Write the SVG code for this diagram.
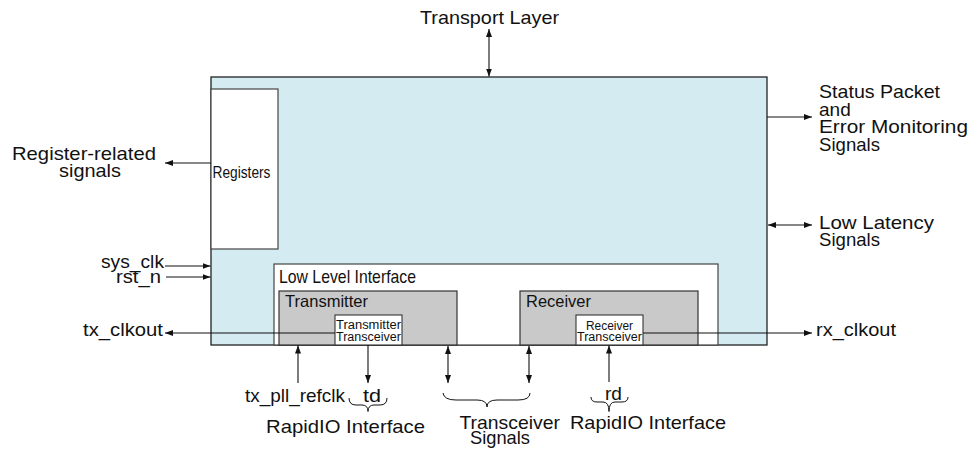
<svg xmlns="http://www.w3.org/2000/svg" width="975" height="449" viewBox="0 0 975 449">
<style>
text{font-family:"Liberation Sans",Arial,sans-serif;fill:#111;}
.l{font-size:19px;}
.m{font-size:16.5px;}
.s{font-size:12.5px;}
.w{stroke:#111;stroke-width:1.1;fill:none;}
.brace{stroke:#111;stroke-width:1;fill:none;}
</style>
<defs>
<marker id="ah" markerUnits="userSpaceOnUse" markerWidth="9" markerHeight="7" refX="8" refY="3" orient="auto-start-reverse">
<path d="M0,0 L8,3 L0,6 z" fill="#111"/>
</marker>
</defs>
<rect width="975" height="449" fill="#fff"/>
<g id="main">
<rect x="211" y="77" width="556" height="268" fill="#d4ebf2" stroke="#222" stroke-width="1.3"/>
</g>
<g id="registers">
<rect x="211" y="89" width="67" height="160" fill="#fff" stroke="#444" stroke-width="1.2"/>
<text class="m" x="212.5" y="178" textLength="58" lengthAdjust="spacingAndGlyphs">Registers</text>
</g>
<g id="lowlevel">
<rect x="274" y="264" width="444" height="81" fill="#fff" stroke="#444" stroke-width="1.2"/>
<text class="l" x="279" y="283" textLength="137" lengthAdjust="spacingAndGlyphs">Low Level Interface</text>
</g>
<g id="transmitter">
<rect x="279" y="291" width="178" height="54" fill="#c9c9c9" stroke="#333" stroke-width="1.2"/>
<text class="m" x="285" y="306.5" textLength="83" lengthAdjust="spacingAndGlyphs">Transmitter</text>
</g>
<g id="tx-transceiver">
<rect x="335" y="315" width="67" height="30" fill="#fff" stroke="#333" stroke-width="1.1"/>
<text class="s" x="368.5" y="329" text-anchor="middle" textLength="65" lengthAdjust="spacingAndGlyphs">Transmitter</text>
<text class="s" x="368.5" y="340.5" text-anchor="middle" textLength="65" lengthAdjust="spacingAndGlyphs">Transceiver</text>
</g>
<g id="receiver">
<rect x="520" y="291" width="178" height="54" fill="#c9c9c9" stroke="#333" stroke-width="1.2"/>
<text class="m" x="526" y="306.5" textLength="65" lengthAdjust="spacingAndGlyphs">Receiver</text>
</g>
<g id="rx-transceiver">
<rect x="576" y="315" width="67" height="30" fill="#fff" stroke="#333" stroke-width="1.1"/>
<text class="s" x="609.5" y="329.5" text-anchor="middle" textLength="47" lengthAdjust="spacingAndGlyphs">Receiver</text>
<text class="s" x="609.5" y="341" text-anchor="middle" textLength="65" lengthAdjust="spacingAndGlyphs">Transceiver</text>
</g>
<g id="connectors">
<line class="w" x1="489" y1="29" x2="489" y2="76.5" marker-start="url(#ah)" marker-end="url(#ah)"/>
<line class="w" x1="211" y1="163" x2="165" y2="163" marker-end="url(#ah)"/>
<line class="w" x1="767" y1="117" x2="812" y2="117" marker-end="url(#ah)"/>
<line class="w" x1="768" y1="225" x2="812" y2="225" marker-start="url(#ah)" marker-end="url(#ah)"/>
<line class="w" x1="165" y1="266" x2="210.5" y2="266" marker-end="url(#ah)"/>
<line class="w" x1="166" y1="277" x2="210.5" y2="277" marker-end="url(#ah)"/>
<line class="w" x1="335" y1="333" x2="165" y2="333" marker-end="url(#ah)"/>
<line class="w" x1="643" y1="333" x2="812" y2="333" marker-end="url(#ah)"/>
<line class="w" x1="298" y1="383" x2="298" y2="345.5" marker-end="url(#ah)"/>
<line class="w" x1="368" y1="345" x2="368" y2="383" marker-end="url(#ah)"/>
<line class="w" x1="448" y1="346" x2="448" y2="383" marker-start="url(#ah)" marker-end="url(#ah)"/>
<line class="w" x1="529" y1="346" x2="529" y2="383" marker-start="url(#ah)" marker-end="url(#ah)"/>
<line class="w" x1="609" y1="382" x2="609" y2="345.5" marker-end="url(#ah)"/>
<path class="brace" d="M349,398 Q349,405 356,405 L362,405 Q368,405 368,411.5 Q368,405 374,405 L380,405 Q387,405 387,398"/>
<path class="brace" d="M443,393 Q444,400 456,400 L477,400 Q487,400 487,407 Q487,400 497,400 L518,400 Q530,400 530,393"/>
<path class="brace" d="M591,397 Q591,402 597,402 L603,402 Q609,402 609,411.5 Q609,402 615,402 L622,402 Q628,402 628,397"/>
</g>
<g id="labels">
<text class="l" x="489.5" y="24" text-anchor="middle" textLength="139" lengthAdjust="spacingAndGlyphs">Transport Layer</text>
<text class="l" x="12" y="159.5" textLength="144" lengthAdjust="spacingAndGlyphs">Register-related</text>
<text class="l" x="59" y="177" textLength="62" lengthAdjust="spacingAndGlyphs">signals</text>
<text class="l" x="819" y="98" textLength="121" lengthAdjust="spacingAndGlyphs">Status Packet</text>
<text class="l" x="819" y="115.5">and</text>
<text class="l" x="819" y="133" textLength="149" lengthAdjust="spacingAndGlyphs">Error Monitoring</text>
<text class="l" x="819" y="150.5" textLength="61" lengthAdjust="spacingAndGlyphs">Signals</text>
<text class="l" x="819" y="228.5" textLength="115" lengthAdjust="spacingAndGlyphs">Low Latency</text>
<text class="l" x="819" y="245.5" textLength="61" lengthAdjust="spacingAndGlyphs">Signals</text>
<text class="l" x="164" y="268" text-anchor="end" textLength="63" lengthAdjust="spacingAndGlyphs">sys_clk</text>
<text class="l" x="161" y="283" text-anchor="end" textLength="45" lengthAdjust="spacingAndGlyphs">rst_n</text>
<text class="l" x="163" y="336" text-anchor="end" textLength="80" lengthAdjust="spacingAndGlyphs">tx_clkout</text>
<text class="l" x="816" y="336" textLength="80" lengthAdjust="spacingAndGlyphs">rx_clkout</text>
<text class="l" x="245" y="401.5" textLength="100" lengthAdjust="spacingAndGlyphs">tx_pll_refclk</text>
<text class="l" x="363" y="401.5" textLength="18" lengthAdjust="spacingAndGlyphs">td</text>
<text class="l" x="266" y="433" textLength="159" lengthAdjust="spacingAndGlyphs">RapidIO Interface</text>
<text class="l" x="459.5" y="428.5" textLength="100.5" lengthAdjust="spacingAndGlyphs">Transceiver</text>
<text class="l" x="470" y="443.5" textLength="60" lengthAdjust="spacingAndGlyphs">Signals</text>
<text class="l" x="605" y="400" textLength="17" lengthAdjust="spacingAndGlyphs">rd</text>
<text class="l" x="570" y="428.5" textLength="156" lengthAdjust="spacingAndGlyphs">RapidIO Interface</text>
</g>
</svg>
